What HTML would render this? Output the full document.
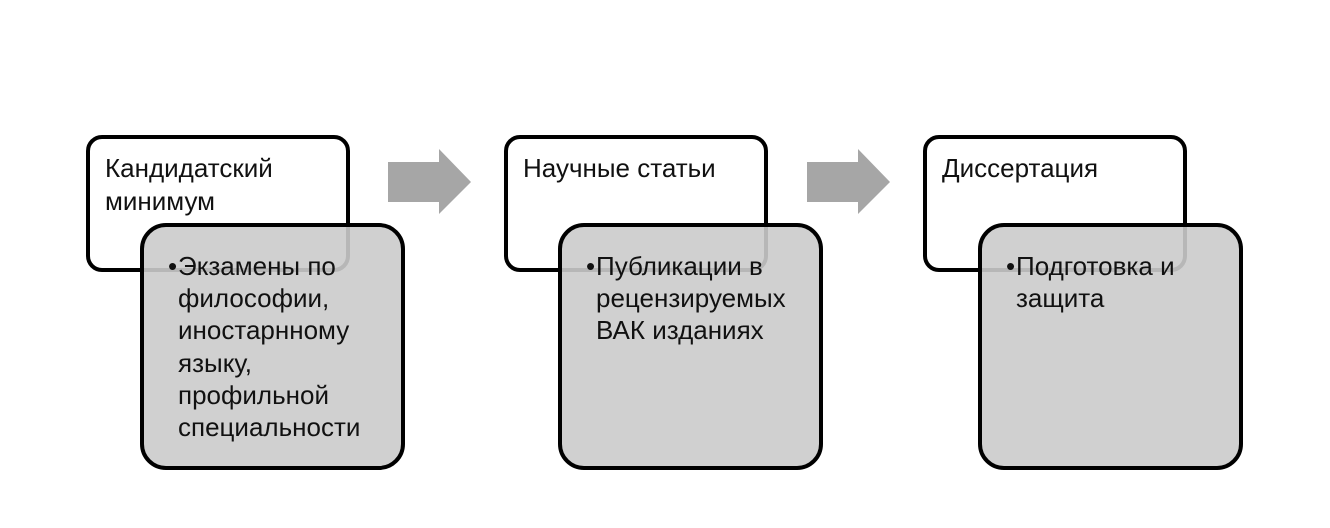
<!DOCTYPE html>
<html>
<head>
<meta charset="utf-8">
<style>
  html, body { margin:0; padding:0; background:#ffffff; }
  body { width:1330px; height:528px; position:relative; overflow:hidden;
         font-family:"Liberation Sans", "DejaVu Sans", sans-serif; color:#111; }
  .wbox { position:absolute; box-sizing:border-box; width:264px; height:137px; top:135px;
          border:4px solid #000; border-radius:16px; background:#fff; }
  .gbox { position:absolute; box-sizing:border-box; width:265px; height:247px; top:223px;
          border:4px solid #000; border-radius:26px; background:rgba(203,203,203,0.9); }
  .title { position:absolute; top:152px; font-size:26px; line-height:33px; white-space:nowrap; }
  .bul { position:absolute; top:250px; font-size:26px; line-height:32.2px; white-space:nowrap; }
  .bul .b { position:absolute; left:-10px; }
</style>
</head>
<body>
<svg width="1330" height="528" style="position:absolute;left:0;top:0">
  <polygon points="388,162 439,162 439,149 471,182 439,214 439,202 388,202" fill="#a6a6a6"/>
  <polygon points="807,162 858,162 858,149 890,182 858,214 858,202 807,202" fill="#a6a6a6"/>
</svg>

<div class="wbox" style="left:86px"></div>
<div class="wbox" style="left:504px"></div>
<div class="wbox" style="left:923px"></div>

<div class="title" style="left:105px">Кандидатский<br>минимум</div>
<div class="title" style="left:523px">Научные статьи</div>
<div class="title" style="left:942px">Диссертация</div>

<div class="gbox" style="left:140px"></div>
<div class="gbox" style="left:558px"></div>
<div class="gbox" style="left:978px"></div>

<div class="bul" style="left:178px"><span class="b">•</span>Экзамены по<br>философии,<br>иностарнному<br>языку,<br>профильной<br>специальности</div>
<div class="bul" style="left:596px"><span class="b">•</span>Публикации в<br>рецензируемых<br>ВАК изданиях</div>
<div class="bul" style="left:1016px"><span class="b">•</span>Подготовка и<br>защита</div>
</body>
</html>
